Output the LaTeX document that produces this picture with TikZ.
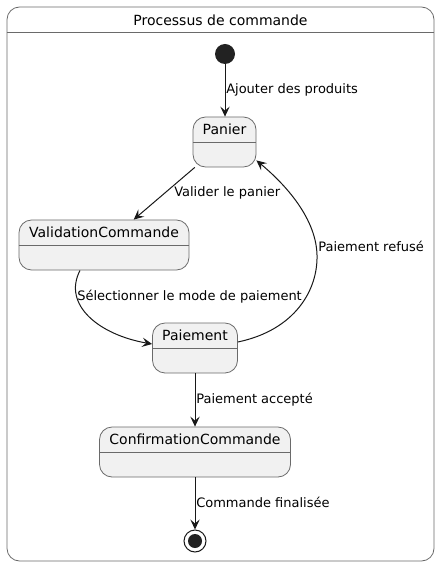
\documentclass[tikz,border=0pt]{standalone}
\usepackage{fontspec}
\setmainfont{DejaVu Sans}
\usetikzlibrary{arrows.meta,calc}
\definecolor{fillc}{HTML}{F1F1F1}
\definecolor{linec}{HTML}{181818}
\definecolor{borderc}{HTML}{6A6A6A}
\definecolor{dotc}{HTML}{222222}
\tikzset{
  statebox/.style={draw=borderc, fill=fillc, rounded corners=9.4pt, line width=0.6pt, inner sep=0pt, minimum height=37.5pt},
  framebox/.style={draw=borderc, rounded corners=9.4pt, line width=0.6pt, inner sep=0pt},
  sepline/.style={draw=borderc, line width=0.6pt},
  namelbl/.style={font=\fontsize{10.5pt}{12pt}\selectfont, text=black, inner sep=0pt},
  edgelbl/.style={font=\fontsize{9.75pt}{11pt}\selectfont, anchor=west, inner sep=0pt, text=black},
  arr/.style={draw=linec, line width=0.75pt, -{Stealth[length=7.5pt,width=7pt,inset=3pt]}},
}
\begin{document}
\begin{tikzpicture}[x=0.75pt,y=-0.75pt]
\useasboundingbox (0,0) rectangle (439,566);
% outer frame
\node[framebox, minimum width=320.25pt, minimum height=415.5pt] (frame) at (220.5,284) {};
\draw[sepline] ($(frame.north west)+(0,26)$) -- ($(frame.north east)+(0,26)$);
\node[namelbl] (title) at (220.5,20) {Processus de commande};
% initial and final states
\node[circle, fill=dotc, inner sep=0pt, minimum size=15pt] (init) at (225,54) {};
\node[circle, draw=linec, fill=white, line width=0.75pt, inner sep=0pt, minimum size=16.5pt] (fin) at (195,541) {};
\node[circle, fill=dotc, inner sep=0pt, minimum size=10.5pt] (finin) at (fin) {};
% states
\node[statebox, minimum width=47.25pt] (panier) at (224.5,142) {};
\draw[sepline] ($(panier.north west)+(0,26)$) -- ($(panier.north east)+(0,26)$);
\node[namelbl] (panierN) at ($(panier.north)+(0,13)$) {Panier};

\node[statebox, minimum width=127.5pt] (valid) at (104,245) {};
\draw[sepline] ($(valid.north west)+(0,26)$) -- ($(valid.north east)+(0,26)$);
\node[namelbl] (validN) at ($(valid.north)+(0,13)$) {ValidationCommande};

\node[statebox, minimum width=63.75pt] (paie) at (195,348) {};
\draw[sepline] ($(paie.north west)+(0,26)$) -- ($(paie.north east)+(0,26)$);
\node[namelbl] (paieN) at ($(paie.north)+(0,13)$) {Paiement};

\node[statebox, minimum width=143.25pt] (conf) at (195,452) {};
\draw[sepline] ($(conf.north west)+(0,26)$) -- ($(conf.north east)+(0,26)$);
\node[namelbl] (confN) at ($(conf.north)+(0,13)$) {ConfirmationCommande};
% transitions
\draw[arr] (init) -- (panier.north -| init);
\node[edgelbl] (l1) at (226,90) {Ajouter des produits};

\draw[arr] (panier) -- (valid);
\node[edgelbl] (l2) at (174,193) {Valider le panier};

\draw[arr] ($(valid.south)+(-24,0)$) .. controls ($(valid.south)+(-42,35)$) and (100,335) .. ($(paie.west)+(0,-4)$);
\node[edgelbl] (l3) at (77,297) {Sélectionner le mode de paiement};

\draw[arr] ($(paie.east)+(0,-6)$) .. controls (295,330) and (318,290) .. (317,255) .. controls (316,215) and (280,180) .. ($(panier.south east)+(0,-7)$);
\node[edgelbl] (l4) at (318,246) {Paiement refusé};

\draw[arr] (paie.south) -- (conf.north);
\node[edgelbl] (l5) at (196,400) {Paiement accepté};

\draw[arr] (conf.south) -- (fin.north);
\node[edgelbl] (l6) at (196,502) {Commande finalisée};
\end{tikzpicture}
\end{document}
